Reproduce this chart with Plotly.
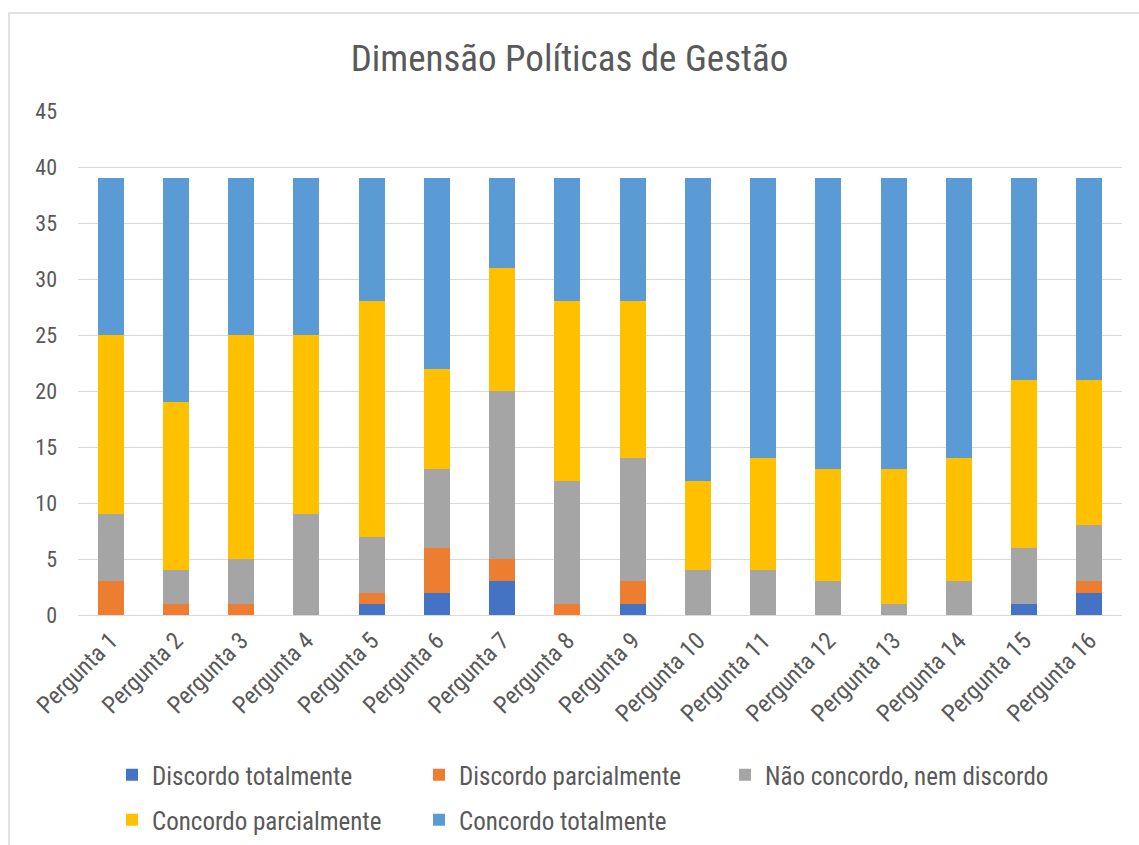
import plotly.graph_objects as go

categories = [f"Pergunta {i}" for i in range(1, 17)]
discordo_totalmente = [0, 0, 0, 0, 1, 2, 3, 0, 1, 0, 0, 0, 0, 0, 1, 2]
discordo_parcialmente = [3, 1, 1, 0, 1, 4, 2, 1, 2, 0, 0, 0, 0, 0, 0, 1]
nao_concordo_nem_discordo = [6, 3, 4, 9, 5, 7, 15, 11, 11, 4, 4, 3, 1, 3, 5, 5]
concordo_parcialmente = [16, 15, 20, 16, 21, 9, 11, 16, 14, 8, 10, 10, 12, 11, 15, 13]
concordo_totalmente = [14, 20, 14, 14, 11, 17, 8, 11, 11, 27, 25, 26, 26, 25, 18, 18]

series_names = ["Discordo totalmente", "Discordo parcialmente", "Não concordo, nem discordo",
                "Concordo parcialmente", "Concordo totalmente"]
series_values = [discordo_totalmente, discordo_parcialmente, nao_concordo_nem_discordo,
                 concordo_parcialmente, concordo_totalmente]
series_colors = ["#4472C4", "#ED7D31", "#A5A5A5", "#FFC000", "#5B9BD5"]
# legend placement (pixel left of legend box, pixel centre of row)
legend_pos = [(112, 775), (419, 775), (725, 775), (112, 820), (419, 820)]

FONT = "Liberation Sans Narrow, Arial Narrow, Roboto Condensed, Open Sans, sans-serif"
TXT = "#595959"

W, H = 1139, 845
L, R, T, B = 78, 17, 111, 230
pw, ph = W - L - R, H - T - B


def px_x(x):
    return (x - L) / pw


def px_y(y):
    return (H - B - y) / ph


fig = go.Figure()
legends = {}
for i, (name, vals, color) in enumerate(zip(series_names, series_values, series_colors)):
    key = "legend" if i == 0 else f"legend{i + 1}"
    fig.add_trace(go.Bar(
        x=categories, y=vals, name=name, legend=key, showlegend=True,
        marker=dict(color=color, line=dict(width=0)),
    ))
    lx, ly = legend_pos[i]
    legends[key] = dict(orientation="h", x=px_x(lx), xanchor="left", y=px_y(ly),
                        yanchor="middle", font=dict(size=25, color=TXT, family=FONT),
                        bgcolor="rgba(0,0,0,0)", visible=True)

fig.update_layout(
    width=W, height=H, showlegend=True,
    barmode="stack", bargap=0.6,
    paper_bgcolor="white", plot_bgcolor="white",
    margin=dict(l=L, r=R, t=T, b=B, autoexpand=False),
    font=dict(family=FONT, color=TXT),
    title=dict(text="Dimensão Políticas de Gestão", x=0.5, xanchor="center",
               y=1 - 58 / H, yanchor="middle", yref="container",
               font=dict(size=37, color=TXT, family=FONT)),
    xaxis=dict(tickangle=-45, tickfont=dict(size=24, color=TXT), showgrid=False,
               showline=False, ticks="", ticklabelstandoff=6),
    yaxis=dict(range=[0, 45], dtick=5, tick0=0, showgrid=True, gridcolor="#D9D9D9",
               gridwidth=1.2, zeroline=True, zerolinecolor="#D9D9D9", zerolinewidth=1.2,
               tickfont=dict(size=22, color=TXT), ticks="", showline=False,
               ticklabelstandoff=20),
    shapes=[dict(type="rect", xref="paper", yref="paper",
                 x0=px_x(9), x1=px_x(1150), y0=px_y(870), y1=px_y(13),
                 line=dict(color="#D9D9D9", width=1.5), fillcolor="rgba(0,0,0,0)",
                 layer="below")],
    **legends,
)

fig.write_html("out.html", config={"displayModeBar": False},
               post_script="document.body.style.margin='0';")
